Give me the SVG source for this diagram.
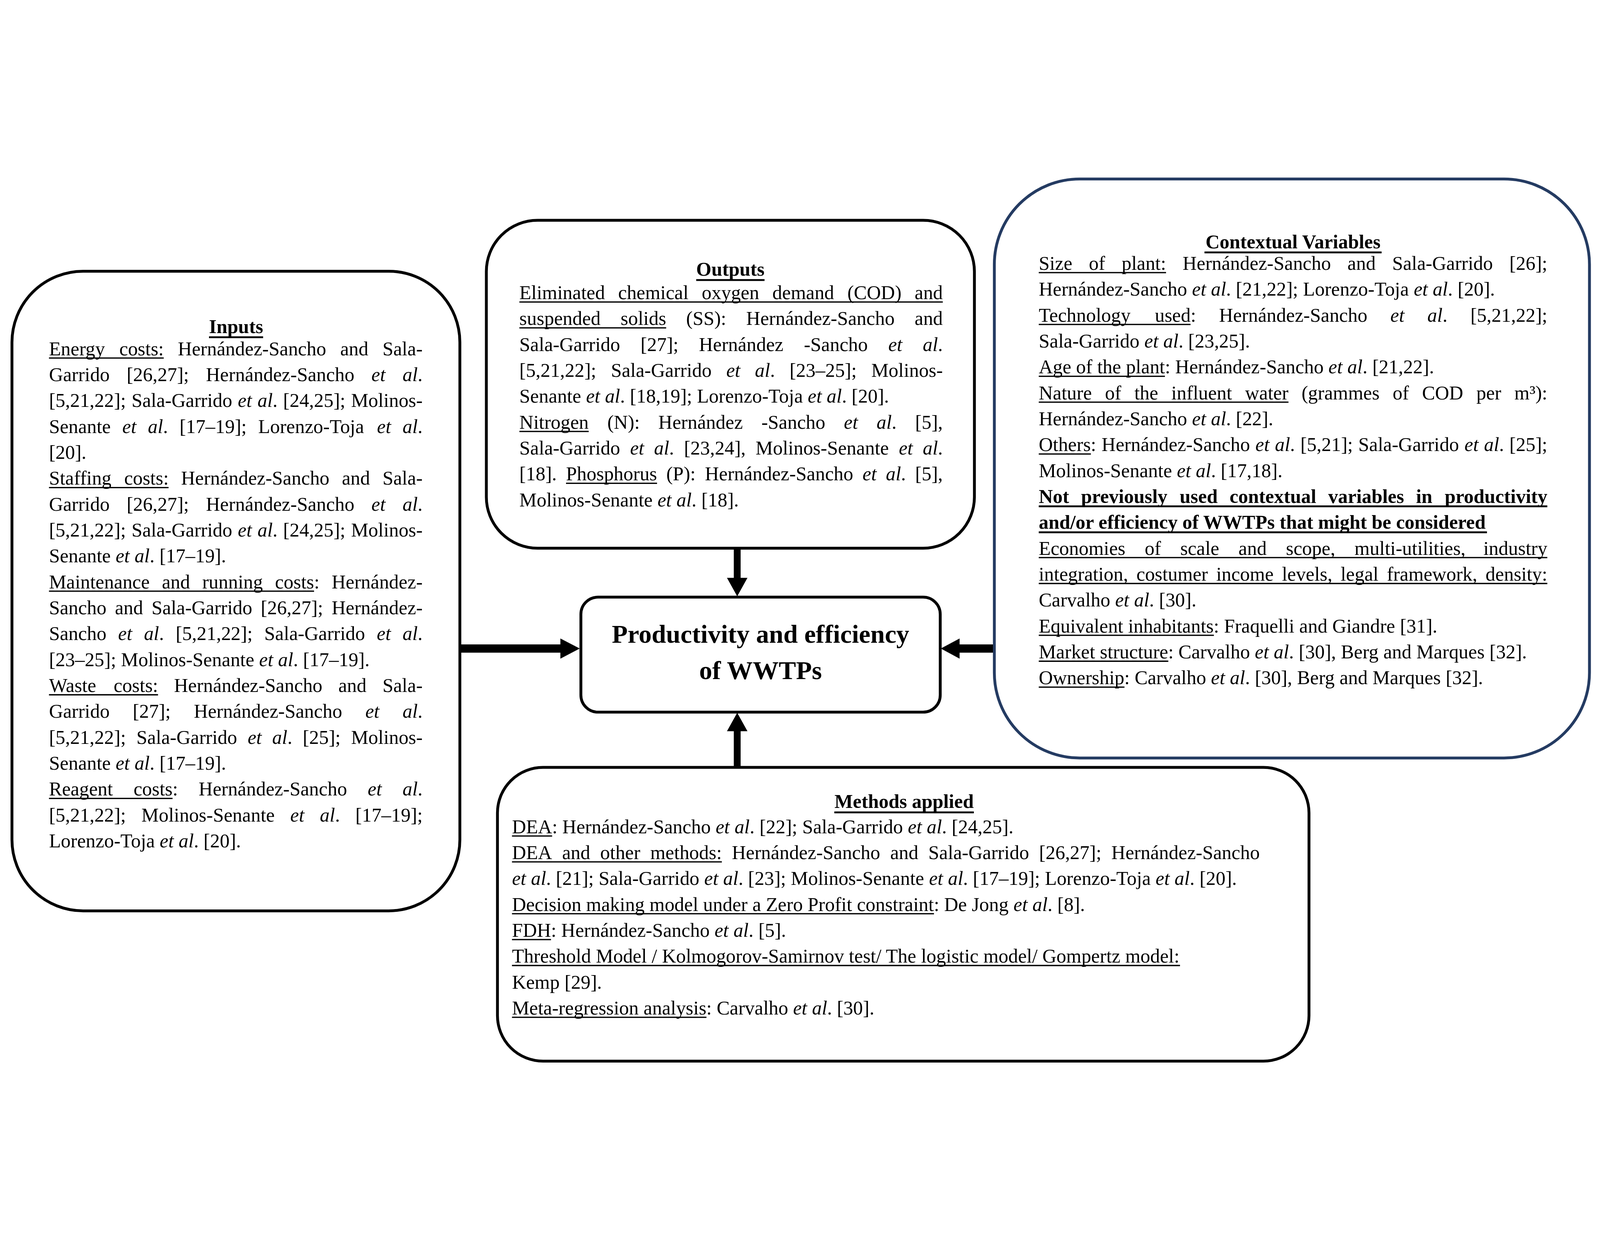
<svg xmlns="http://www.w3.org/2000/svg" width="5619" height="3178" viewBox="0 0 5619 3178" preserveAspectRatio="xMidYMid meet">
<style>
svg{width:100vw;height:100vh;max-width:5619px;max-height:3178px}
.t{font-family:"Liberation Serif","Times New Roman",serif;font-size:68.5px;fill:#000}
.i{font-style:italic}
.b{font-weight:bold}
.m{text-anchor:middle}
.e{text-anchor:end}
.ct{font-size:91px;font-weight:bold;text-anchor:middle}
.box{fill:#fff;stroke:#000;stroke-width:10}
.ctx{fill:#fff;stroke:#243B62;stroke-width:10}
.u{stroke:#000;stroke-width:4.5}
.ub{stroke:#000;stroke-width:6.5}
.arr{fill:#000;stroke:none}
</style>
<rect width="5619" height="3178" fill="#fff"/>

<g id="connectors">
<rect class="arr" x="1612" y="1673" width="360" height="29"/>
<polygon class="arr" points="1968,1652 2036,1687.5 1968,1723"/>
<rect class="arr" x="3366" y="1673" width="128" height="29"/>
<polygon class="arr" points="3370,1652 3304,1687.5 3370,1723"/>
<rect class="arr" x="2577" y="1330" width="24" height="112"/>
<polygon class="arr" points="2553,1439 2589,1504 2625,1439"/>
<rect class="arr" x="2577" y="1975" width="24" height="134"/>
<polygon class="arr" points="2553,1978 2589,1913 2625,1978"/>
</g>

<g id="inputs">
<rect class="box" x="42" y="362" width="1573" height="2247" rx="250" ry="250"/>
<text class="t b m" x="829" y="579">Inputs</text>
<line class="ub" x1="734" y1="594" x2="924" y2="594"/>
<text class="t" y="657"><tspan x="172">Energy</tspan><tspan x="419.1">costs:</tspan><tspan x="624.4">Hernández-Sancho</tspan><tspan x="1194.8">and</tspan></text>
<text class="t e" x="1484" y="657">Sala-</text>
<line class="u" x1="172" y1="667" x2="575" y2="667"/>
<text class="t" y="748"><tspan x="172">Garrido</tspan><tspan x="444.8">[26,27];</tspan><tspan x="723.4">Hernández-Sancho</tspan><tspan x="1304.3" class="i">et</tspan></text>
<text class="t e" x="1484" y="748"><tspan class="i">al</tspan>.</text>
<text class="t" y="839"><tspan x="172">[5,21,22];</tspan><tspan x="461.8">Sala-Garrido</tspan><tspan x="835.2" class="i">et</tspan><tspan x="904.3" class="i">al</tspan><tspan>.</tspan><tspan x="994.3">[24,25];</tspan></text>
<text class="t e" x="1484" y="839">Molinos-</text>
<text class="t" y="930"><tspan x="172">Senante</tspan><tspan x="429.4" class="i">et</tspan><tspan x="519.4" class="i">al</tspan><tspan>.</tspan><tspan x="630.3">[17–19];</tspan><tspan x="906.7">Lorenzo-Toja</tspan><tspan x="1323.8" class="i">et</tspan></text>
<text class="t e" x="1484" y="930"><tspan class="i">al</tspan>.</text>
<text class="t" x="172" y="1021">[20].</text>
<text class="t" y="1112"><tspan x="172">Staffing</tspan><tspan x="436.3">costs:</tspan><tspan x="635.9">Hernández-Sancho</tspan><tspan x="1200.6">and</tspan></text>
<text class="t e" x="1484" y="1112">Sala-</text>
<line class="u" x1="172" y1="1122" x2="592" y2="1122"/>
<text class="t" y="1203"><tspan x="172">Garrido</tspan><tspan x="444.8">[26,27];</tspan><tspan x="723.4">Hernández-Sancho</tspan><tspan x="1304.3" class="i">et</tspan></text>
<text class="t e" x="1484" y="1203"><tspan class="i">al</tspan>.</text>
<text class="t" y="1294"><tspan x="172">[5,21,22];</tspan><tspan x="461.8">Sala-Garrido</tspan><tspan x="835.2" class="i">et</tspan><tspan x="904.3" class="i">al</tspan><tspan>.</tspan><tspan x="994.3">[24,25];</tspan></text>
<text class="t e" x="1484" y="1294">Molinos-</text>
<text class="t" x="172" y="1385">Senante <tspan class="i">et al</tspan>. [17–19].</text>
<text class="t" y="1476"><tspan x="172">Maintenance</tspan><tspan x="568.5">and</tspan><tspan x="710.1">running</tspan><tspan x="965.9">costs:</tspan></text>
<text class="t e" x="1484" y="1476">Hernández-</text>
<line class="u" x1="172" y1="1486" x2="1103" y2="1486"/>
<text class="t" y="1567"><tspan x="172">Sancho</tspan><tspan x="403.5">and</tspan><tspan x="532.2">Sala-Garrido</tspan><tspan x="915.8">[26,27];</tspan></text>
<text class="t e" x="1484" y="1567">Hernández-</text>
<text class="t" y="1658"><tspan x="172">Sancho</tspan><tspan x="414.8" class="i">et</tspan><tspan x="505.4" class="i">al</tspan><tspan>.</tspan><tspan x="616.9">[5,21,22];</tspan><tspan x="928.2">Sala-Garrido</tspan><tspan x="1323.1" class="i">et</tspan></text>
<text class="t e" x="1484" y="1658"><tspan class="i">al</tspan>.</text>
<text class="t" x="172" y="1749">[23–25]; Molinos-Senante <tspan class="i">et al</tspan>. [17–19].</text>
<text class="t" y="1840"><tspan x="172">Waste</tspan><tspan x="399.2">costs:</tspan><tspan x="611.2">Hernández-Sancho</tspan><tspan x="1188.3">and</tspan></text>
<text class="t e" x="1484" y="1840">Sala-</text>
<line class="u" x1="172" y1="1850" x2="555" y2="1850"/>
<text class="t" y="1931"><tspan x="172">Garrido</tspan><tspan x="466.2">[27];</tspan><tspan x="680.6">Hernández-Sancho</tspan><tspan x="1282.9" class="i">et</tspan></text>
<text class="t e" x="1484" y="1931"><tspan class="i">al</tspan>.</text>
<text class="t" y="2022"><tspan x="172">[5,21,22];</tspan><tspan x="479">Sala-Garrido</tspan><tspan x="869.6" class="i">et</tspan><tspan x="955.9" class="i">al</tspan><tspan>.</tspan><tspan x="1063.1">[25];</tspan></text>
<text class="t e" x="1484" y="2022">Molinos-</text>
<text class="t" x="172" y="2113">Senante <tspan class="i">et al</tspan>. [17–19].</text>
<text class="t" y="2204"><tspan x="172">Reagent</tspan><tspan x="469.1">costs:</tspan><tspan x="697.7">Hernández-Sancho</tspan><tspan x="1291.4" class="i">et</tspan></text>
<text class="t e" x="1484" y="2204"><tspan class="i">al</tspan>.</text>
<line class="u" x1="172" y1="2214" x2="606" y2="2214"/>
<text class="t" y="2295"><tspan x="172">[5,21,22];</tspan><tspan x="496.7">Molinos-Senante</tspan><tspan x="1019.3" class="i">et</tspan><tspan x="1123.3" class="i">al</tspan><tspan>.</tspan></text>
<text class="t e" x="1484" y="2295">[17–19];</text>
<text class="t" x="172" y="2386">Lorenzo-Toja <tspan class="i">et al</tspan>. [20].</text>
</g>

<g id="outputs">
<rect class="box" x="1708" y="183" width="1714" height="1152" rx="180" ry="180"/>
<text class="t b m" x="2565" y="378">Outputs</text>
<line class="ub" x1="2445" y1="393" x2="2685" y2="393"/>
<text class="t" y="460"><tspan x="1824">Eliminated</tspan><tspan x="2170.9">chemical</tspan><tspan x="2464.5">oxygen</tspan><tspan x="2712.5">demand</tspan><tspan x="2975.7">(COD)</tspan></text>
<text class="t e" x="3311" y="460">and</text>
<line class="u" x1="1824" y1="470" x2="3311" y2="470"/>
<text class="t" y="551"><tspan x="1824">suspended</tspan><tspan x="2179.6">solids</tspan><tspan x="2409.7">(SS):</tspan><tspan x="2620.7">Hernández-Sancho</tspan></text>
<text class="t e" x="3311" y="551">and</text>
<line class="u" x1="1824" y1="561" x2="2339.5" y2="561"/>
<text class="t" y="642"><tspan x="1824">Sala-Garrido</tspan><tspan x="2249.6">[27];</tspan><tspan x="2454.6">Hernández</tspan><tspan x="2823.1">-Sancho</tspan><tspan x="3119.4" class="i">et</tspan></text>
<text class="t e" x="3311" y="642"><tspan class="i">al</tspan>.</text>
<text class="t" y="733"><tspan x="1824">[5,21,22];</tspan><tspan x="2145.4">Sala-Garrido</tspan><tspan x="2550.4" class="i">et</tspan><tspan x="2651.1" class="i">al</tspan><tspan>.</tspan><tspan x="2772.7">[23–25];</tspan></text>
<text class="t e" x="3311" y="733">Molinos-</text>
<text class="t" x="1824" y="824">Senante <tspan class="i">et al</tspan>. [18,19]; Lorenzo-Toja <tspan class="i">et al</tspan>. [20].</text>
<text class="t" y="915"><tspan x="1824">Nitrogen</tspan><tspan x="2132.7">(N):</tspan><tspan x="2312">Hernández</tspan><tspan x="2673.9">-Sancho</tspan><tspan x="2963.6" class="i">et</tspan><tspan x="3078.3" class="i">al</tspan><tspan>.</tspan></text>
<text class="t e" x="3311" y="915">[5],</text>
<line class="u" x1="1824" y1="925" x2="2067.5" y2="925"/>
<text class="t" y="1006"><tspan x="1824">Sala-Garrido</tspan><tspan x="2212.6" class="i">et</tspan><tspan x="2296.8" class="i">al</tspan><tspan>.</tspan><tspan x="2402">[23,24],</tspan><tspan x="2653.6">Molinos-Senante</tspan><tspan x="3156.5" class="i">et</tspan></text>
<text class="t e" x="3311" y="1006"><tspan class="i">al</tspan>.</text>
<text class="t" y="1097"><tspan x="1824">[18].</tspan><tspan x="1987.8">Phosphorus</tspan><tspan x="2340">(P):</tspan><tspan x="2475.4">Hernández-Sancho</tspan><tspan x="3029" class="i">et</tspan><tspan x="3111" class="i">al</tspan><tspan>.</tspan></text>
<text class="t e" x="3311" y="1097">[5],</text>
<line class="u" x1="1987.8" y1="1107" x2="2307.5" y2="1107"/>
<text class="t" x="1824" y="1188">Molinos-Senante <tspan class="i">et al</tspan>. [18].</text>
</g>

<g id="contextual">
<rect class="ctx" x="3492" y="38" width="2090" height="2034" rx="300" ry="300"/>
<text class="t b m" x="4541" y="281">Contextual Variables</text>
<line class="ub" x1="4230" y1="296" x2="4852" y2="296"/>
<text class="t" y="357"><tspan x="3648">Size</tspan><tspan x="3824">of</tspan><tspan x="3939.1">plant:</tspan><tspan x="4153.1">Hernández-Sancho</tspan><tspan x="4732.2">and</tspan><tspan x="4889.1">Sala-Garrido</tspan></text>
<text class="t e" x="5434" y="357">[26];</text>
<line class="u" x1="3648" y1="367" x2="4095" y2="367"/>
<text class="t" x="3648" y="448">Hernández-Sancho <tspan class="i">et al</tspan>. [21,22]; Lorenzo-Toja <tspan class="i">et al</tspan>. [20].</text>
<text class="t" y="539"><tspan x="3648">Technology</tspan><tspan x="4055.8">used:</tspan><tspan x="4281">Hernández-Sancho</tspan><tspan x="4882.7" class="i">et</tspan><tspan x="5012.8" class="i">al</tspan><tspan>.</tspan></text>
<text class="t e" x="5434" y="539">[5,21,22];</text>
<line class="u" x1="3648" y1="549" x2="4181" y2="549"/>
<text class="t" x="3648" y="630">Sala-Garrido <tspan class="i">et al</tspan>. [23,25].</text>
<text class="t" x="3648" y="721">Age of the plant: Hernández-Sancho <tspan class="i">et al</tspan>. [21,22].</text>
<line class="u" x1="3648" y1="731" x2="4091" y2="731"/>
<text class="t" y="812"><tspan x="3648">Nature</tspan><tspan x="3880.5">of</tspan><tspan x="3983.7">the</tspan><tspan x="4113.5">influent</tspan><tspan x="4372.7">water</tspan><tspan x="4570.9">(grammes</tspan><tspan x="4890.9">of</tspan><tspan x="4994.1">COD</tspan><tspan x="5184.8">per</tspan></text>
<text class="t e" x="5434" y="812">m³):</text>
<line class="u" x1="3648" y1="822" x2="4525" y2="822"/>
<text class="t" x="3648" y="903">Hernández-Sancho <tspan class="i">et al</tspan>. [22].</text>
<text class="t" y="994"><tspan x="3648">Others:</tspan><tspan x="3868.7">Hernández-Sancho</tspan><tspan x="4408.8" class="i">et</tspan><tspan x="4477.3" class="i">al</tspan><tspan>.</tspan><tspan x="4566.7">[5,21];</tspan><tspan x="4770.2">Sala-Garrido</tspan><tspan x="5143" class="i">et</tspan><tspan x="5211.5" class="i">al</tspan><tspan>.</tspan></text>
<text class="t e" x="5434" y="994">[25];</text>
<line class="u" x1="3648" y1="1004" x2="3831" y2="1004"/>
<text class="t" x="3648" y="1085">Molinos-Senante <tspan class="i">et al</tspan>. [17,18].</text>
<text class="t b" y="1176"><tspan x="3648">Not</tspan><tspan x="3796.5">previously</tspan><tspan x="4143">used</tspan><tspan x="4318.2">contextual</tspan><tspan x="4664.6">variables</tspan><tspan x="4973">in</tspan></text>
<text class="t b e" x="5434" y="1176">productivity</text>
<line class="ub" x1="3648" y1="1188" x2="5434" y2="1188"/>
<text class="t b" x="3648" y="1267">and/or efficiency of WWTPs that might be considered</text>
<line class="ub" x1="3648" y1="1279" x2="5222" y2="1279"/>
<text class="t" y="1358"><tspan x="3648">Economies</tspan><tspan x="4020.1">of</tspan><tspan x="4144.9">scale</tspan><tspan x="4349.5">and</tspan><tspan x="4516.1">scope,</tspan><tspan x="4756.9">multi-utilities,</tspan></text>
<text class="t e" x="5434" y="1358">industry</text>
<line class="u" x1="3648" y1="1368" x2="5434" y2="1368"/>
<text class="t" y="1449"><tspan x="3648">integration,</tspan><tspan x="3991">costumer</tspan><tspan x="4271.2">income</tspan><tspan x="4502">levels,</tspan><tspan x="4708">legal</tspan><tspan x="4870.3">framework,</tspan></text>
<text class="t e" x="5434" y="1449">density:</text>
<line class="u" x1="3648" y1="1459" x2="5434" y2="1459"/>
<text class="t" x="3648" y="1540">Carvalho <tspan class="i">et al</tspan>. [30].</text>
<text class="t" x="3648" y="1631">Equivalent inhabitants: Fraquelli and Giandre [31].</text>
<line class="u" x1="3648" y1="1641" x2="4263" y2="1641"/>
<text class="t" x="3648" y="1722">Market structure: Carvalho <tspan class="i">et al</tspan>. [30], Berg and Marques [32].</text>
<line class="u" x1="3648" y1="1732" x2="4103" y2="1732"/>
<text class="t" x="3648" y="1813">Ownership: Carvalho <tspan class="i">et al</tspan>. [30], Berg and Marques [32].</text>
<line class="u" x1="3648" y1="1823" x2="3949" y2="1823"/>
</g>

<g id="methods">
<rect class="box" x="1747" y="2105" width="2850" height="1032" rx="160" ry="160"/>
<text class="t b m" x="3175" y="2248">Methods applied</text>
<line class="ub" x1="2930" y1="2263" x2="3420" y2="2263"/>
<text class="t" x="1798" y="2336">DEA: Hernández-Sancho <tspan class="i">et al</tspan>. [22]; Sala-Garrido <tspan class="i">et al</tspan>. [24,25].</text>
<line class="u" x1="1798" y1="2346" x2="1939" y2="2346"/>
<text class="t" y="2427"><tspan x="1798">DEA</tspan><tspan x="1973.9">and</tspan><tspan x="2107.9">other</tspan><tspan x="2283.8">methods:</tspan><tspan x="2570.1">Hernández-Sancho</tspan><tspan x="3126.3">and</tspan><tspan x="3260.3">Sala-Garrido</tspan><tspan x="3649.2">[26,27];</tspan></text>
<text class="t e" x="4424" y="2427">Hernández-Sancho</text>
<line class="u" x1="1798" y1="2437" x2="2535" y2="2437"/>
<text class="t" x="1798" y="2518"><tspan class="i">et al</tspan>. [21]; Sala-Garrido <tspan class="i">et al</tspan>. [23]; Molinos-Senante <tspan class="i">et al</tspan>. [17–19]; Lorenzo-Toja <tspan class="i">et al</tspan>. [20].</text>
<text class="t" x="1798" y="2609">Decision making model under a Zero Profit constraint: De Jong <tspan class="i">et al</tspan>. [8].</text>
<line class="u" x1="1798" y1="2619" x2="3280" y2="2619"/>
<text class="t" x="1798" y="2700">FDH: Hernández-Sancho <tspan class="i">et al</tspan>. [5].</text>
<line class="u" x1="1798" y1="2710" x2="1935" y2="2710"/>
<text class="t" x="1798" y="2791">Threshold Model / Kolmogorov-Samirnov test/ The logistic model/ Gompertz model:</text>
<line class="u" x1="1798" y1="2801" x2="4144" y2="2801"/>
<text class="t" x="1798" y="2882">Kemp [29].</text>
<text class="t" x="1798" y="2973">Meta-regression analysis: Carvalho <tspan class="i">et al</tspan>. [30].</text>
<line class="u" x1="1798" y1="2983" x2="2481" y2="2983"/>
</g>

<g id="center">
<rect class="box" x="2040" y="1507" width="1262" height="404" rx="60" ry="60"/>
<text class="t ct" x="2671" y="1667">Productivity and efficiency</text>
<text class="t ct" x="2671" y="1795">of WWTPs</text>
</g>
</svg>
